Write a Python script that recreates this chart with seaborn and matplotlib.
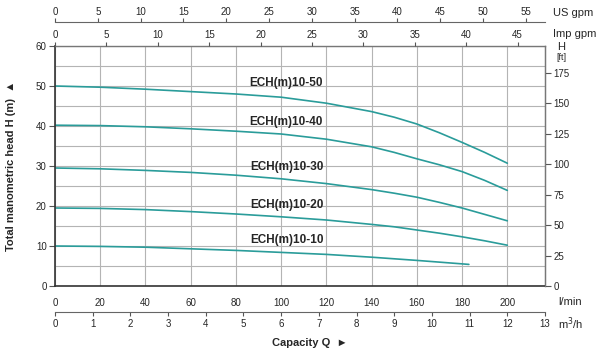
import matplotlib
matplotlib.use("Agg")
import matplotlib.pyplot as plt
import numpy as np
import pandas as pd
import seaborn as sns

# flow in l/min, head in m
flow = [0, 20, 40, 60, 80, 100, 120, 140, 150, 160, 170, 180, 190, 200]
head_10_50 = [50.0, 49.7, 49.2, 48.6, 48.0, 47.2, 45.7, 43.6, 42.2, 40.5, 38.3, 35.9, 33.4, 30.7]
head_10_40 = [40.2, 40.1, 39.8, 39.3, 38.7, 38.0, 36.7, 34.8, 33.4, 31.8, 30.3, 28.6, 26.4, 23.9]
head_10_30 = [29.5, 29.3, 28.9, 28.4, 27.7, 26.8, 25.6, 24.1, 23.2, 22.2, 20.9, 19.5, 17.9, 16.3]
head_10_20 = [19.5, 19.4, 19.1, 18.6, 18.0, 17.3, 16.5, 15.4, 14.8, 14.0, 13.2, 12.3, 11.3, 10.2]
flow_10_10 = [0, 20, 40, 60, 80, 100, 120, 140, 160, 183]
head_10_10 = [10.0, 9.9, 9.7, 9.3, 8.9, 8.4, 7.9, 7.2, 6.4, 5.4]

models = ["ECH(m)10-50", "ECH(m)10-40", "ECH(m)10-30", "ECH(m)10-20", "ECH(m)10-10"]
label_pos = [(86, 50.8), (86, 41.1), (86.5, 29.7), (86.5, 20.3), (86.5, 11.5)]

# unit conversions
LPM_PER_M3H = 1000 / 60
LPM_PER_USGPM = 3.78541
LPM_PER_IMPGPM = 4.54609
FT_PER_M = 3.28084

line_color = "#2a9c9a"
grid_color = "#b4b4b4"
frame_color = "#555555"

frames = []
for name, x, y in zip(models,
                      [flow, flow, flow, flow, flow_10_10],
                      [head_10_50, head_10_40, head_10_30, head_10_20, head_10_10]):
    frames.append(pd.DataFrame({"flow": x, "head": y, "model": name}))
df = pd.concat(frames, ignore_index=True)

sns.set_style("white")
plt.rcParams["font.family"] = ["Liberation Sans", "DejaVu Sans"]

fig = plt.figure(figsize=(6, 3.54), dpi=100)
ax = fig.add_axes([55 / 600, 1 - 286 / 354, 490 / 600, 240 / 354])

xmax = 13 * LPM_PER_M3H
ax.set_xlim(0, xmax)
ax.set_ylim(0, 60)

ax.set_xticks(np.arange(0, 220, 20))
ax.set_yticks(np.arange(0, 70, 10))
ax.set_yticks(np.arange(5, 60, 10), minor=True)
ax.grid(True, which="both", color=grid_color, linewidth=0.8)
ax.set_axisbelow(True)

sns.lineplot(data=df, x="flow", y="head", units="model", estimator=None,
             color=line_color, linewidth=1.2, legend=False, ax=ax, sort=False)

for name, (tx, ty) in zip(models, label_pos):
    ax.text(tx, ty, name, fontsize=8.5, fontweight="bold", ha="left", va="center")

ax.tick_params(axis="x", length=0, pad=9, labelsize=7)
ax.tick_params(axis="y", which="major", length=4, width=0.8, color=frame_color,
               labelsize=7, pad=2, direction="out", left=True)
ax.tick_params(axis="y", which="minor", length=0)
ax.set_xlabel("")
ax.set_ylabel("Total manometric head H (m)  \u25b2", fontsize=8, fontweight="bold",
              labelpad=14)
for side in ["left", "bottom"]:
    ax.spines[side].set_color("#333333")
    ax.spines[side].set_linewidth(1.2)
for side in ["top", "right"]:
    ax.spines[side].set_color("#777777")
    ax.spines[side].set_linewidth(1.0)

# right axis in feet
axr = ax.twinx()
axr.set_ylim(0, 60 * FT_PER_M)
axr.set_yticks(np.arange(0, 200, 25))
axr.tick_params(axis="y", length=4, width=0.8, color=frame_color, labelsize=7, pad=2)
axr.grid(False)
for side in ["left", "top", "bottom"]:
    axr.spines[side].set_visible(False)
axr.spines["right"].set_color("#777777")

# Imp gpm on top of the frame
ax_imp = ax.twiny()
ax_imp.set_xlim(0, xmax / LPM_PER_IMPGPM)
ax_imp.set_xticks(np.arange(0, 50, 5))
ax_imp.tick_params(axis="x", length=3, width=0.8, color=frame_color, labelsize=7, pad=1)
ax_imp.grid(False)
for side in ["left", "right", "bottom", "top"]:
    ax_imp.spines[side].set_visible(False)

# US gpm further up
ax_us = ax.twiny()
ax_us.set_xlim(0, xmax / LPM_PER_USGPM)
ax_us.set_xticks(np.arange(0, 60, 5))
ax_us.spines["top"].set_position(("outward", 17))
ax_us.spines["top"].set_color("#666666")
ax_us.tick_params(axis="x", length=3, width=0.8, color=frame_color, labelsize=7, pad=1)
ax_us.grid(False)
for side in ["left", "right", "bottom"]:
    ax_us.spines[side].set_visible(False)

# m3/h below
ax_m3 = ax.twiny()
ax_m3.set_xlim(0, 13)
ax_m3.set_xticks(np.arange(0, 14, 1))
ax_m3.xaxis.set_ticks_position("bottom")
ax_m3.xaxis.set_label_position("bottom")
ax_m3.spines["bottom"].set_position(("outward", 19))
ax_m3.spines["bottom"].set_color("#666666")
ax_m3.tick_params(axis="x", length=3, width=0.8, color=frame_color, labelsize=7, pad=2)
ax_m3.grid(False)
for side in ["left", "right", "top"]:
    ax_m3.spines[side].set_visible(False)

# unit labels
fig.text(553 / 600, 1 - 13 / 354, "US gpm", fontsize=8, va="center", ha="left")
fig.text(553 / 600, 1 - 34 / 354, "Imp gpm", fontsize=8, va="center", ha="left")
fig.text(561 / 600, 1 - 47 / 354, "H", fontsize=8, va="center", ha="center")
fig.text(561 / 600, 1 - 57 / 354, "[ft]", fontsize=6.5, va="center", ha="center")
fig.text(558 / 600, 1 - 302 / 354, "l/min", fontsize=8, va="center", ha="left")
fig.text(558 / 600, 1 - 324 / 354, "m$^3$/h", fontsize=8, va="center", ha="left")
fig.text(310 / 600, 1 - 343 / 354, "Capacity Q  \u25ba", fontsize=8,
         fontweight="bold", va="center", ha="center")

fig.savefig("out.png", dpi=100)
